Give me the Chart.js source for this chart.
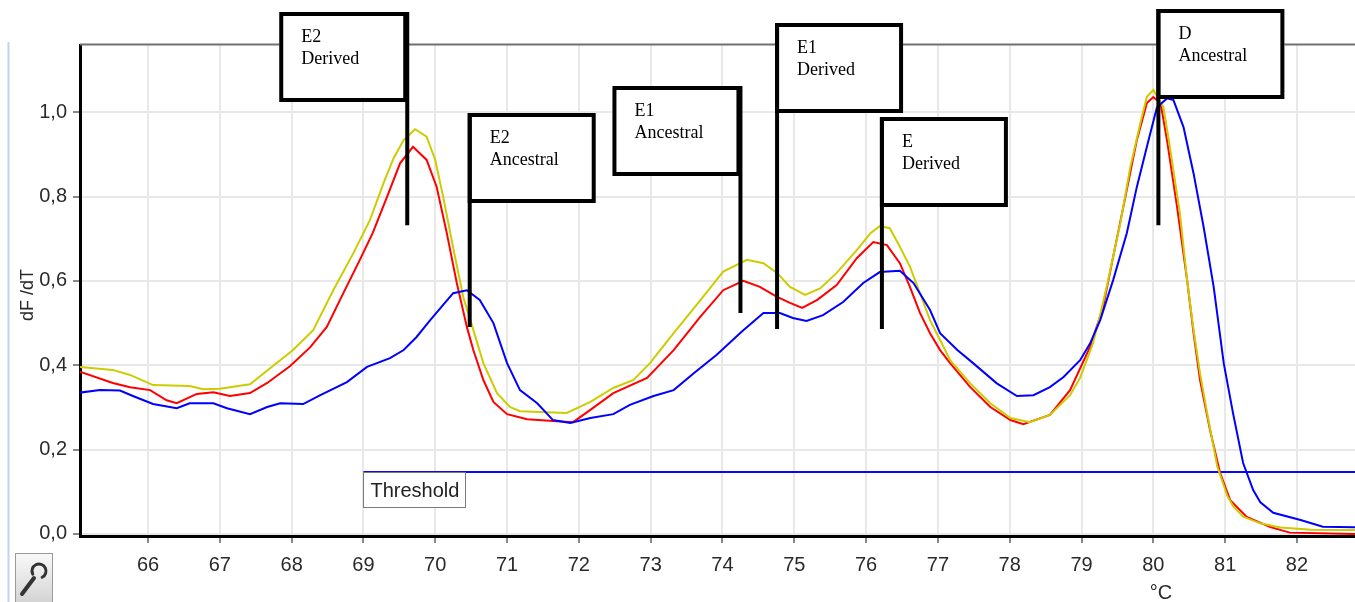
<!DOCTYPE html>
<html><head><meta charset="utf-8">
<script src="https://cdn.jsdelivr.net/npm/chart.js@4.4.1/dist/chart.umd.min.js"></script>
<style>html,body{margin:0;padding:0;background:#fff;overflow:hidden}</style>
</head><body>
<canvas id="c" width="1355" height="602"></canvas>
<script>
// ---- data ----
const xTickValues = [66,67,68,69,70,71,72,73,74,75,76,77,78,79,80,81,82];
const yTickValues = [0,0.2,0.4,0.6,0.8,1.0];
const xTitle = '°C';
const yTitle = 'dF /dT';

const yellowT = [65.05,65.51,65.75,66.07,66.58,66.77,67.00,67.42,67.84,68.02,68.30,68.58,68.86,69.09,69.28,69.42,69.56,69.72,69.88,70.00,70.11,70.25,70.39,70.53,70.67,70.86,71.04,71.18,71.83,72.16,72.48,72.76,72.99,73.32,73.69,74.01,74.34,74.57,74.76,74.94,75.15,75.36,75.59,75.87,76.06,76.19,76.33,76.47,76.61,76.75,76.89,77.03,77.17,77.45,77.73,78.01,78.28,78.56,78.84,78.98,79.16,79.26,79.35,79.54,79.68,79.82,79.91,80.00,80.14,80.23,80.37,80.47,80.56,80.65,80.75,80.89,81.03,81.11,81.25,81.49,81.77,82.20,82.81];
const yellowV = [0.396,0.389,0.377,0.353,0.351,0.343,0.344,0.355,0.412,0.436,0.483,0.578,0.666,0.744,0.832,0.891,0.934,0.960,0.942,0.887,0.800,0.678,0.562,0.484,0.405,0.334,0.301,0.291,0.287,0.313,0.346,0.365,0.405,0.476,0.554,0.622,0.650,0.642,0.619,0.586,0.567,0.582,0.619,0.673,0.713,0.730,0.725,0.681,0.634,0.571,0.507,0.460,0.412,0.357,0.310,0.275,0.265,0.282,0.329,0.370,0.452,0.520,0.586,0.737,0.871,0.975,1.037,1.053,1.012,0.918,0.760,0.602,0.484,0.381,0.286,0.160,0.090,0.066,0.041,0.025,0.015,0.010,0.009];

const redT = [65.05,65.51,65.75,66.03,66.26,66.40,66.68,66.91,67.14,67.42,67.66,67.98,68.26,68.49,68.72,68.95,69.13,69.33,69.51,69.69,69.88,70.02,70.16,70.30,70.44,70.53,70.67,70.81,71.00,71.28,71.64,71.92,72.16,72.48,72.95,73.32,73.69,74.01,74.29,74.52,74.76,74.94,75.11,75.32,75.59,75.87,76.10,76.29,76.47,76.61,76.75,76.89,77.03,77.17,77.45,77.73,78.01,78.19,78.56,78.84,79.12,79.30,79.44,79.63,79.77,79.91,80.00,80.10,80.19,80.33,80.47,80.56,80.65,80.79,80.93,81.07,81.30,81.63,81.90,82.81];
const redV = [0.385,0.358,0.348,0.341,0.317,0.310,0.332,0.336,0.327,0.334,0.358,0.398,0.443,0.491,0.571,0.650,0.714,0.800,0.879,0.918,0.887,0.823,0.714,0.595,0.491,0.436,0.365,0.313,0.284,0.272,0.268,0.265,0.294,0.334,0.370,0.436,0.515,0.578,0.600,0.586,0.562,0.548,0.536,0.555,0.590,0.654,0.692,0.685,0.642,0.586,0.524,0.476,0.436,0.405,0.348,0.301,0.270,0.260,0.282,0.341,0.444,0.538,0.657,0.816,0.934,1.022,1.036,1.022,0.934,0.776,0.602,0.476,0.365,0.246,0.144,0.080,0.040,0.016,0.003,0.000];

const blueT = [65.05,65.33,65.61,65.79,66.07,66.40,66.58,66.91,67.10,67.42,67.66,67.84,68.16,68.40,68.77,69.05,69.37,69.56,69.74,69.93,70.11,70.25,70.44,70.62,70.81,71.00,71.18,71.42,71.64,71.88,72.16,72.48,72.71,73.04,73.32,73.60,73.92,74.27,74.57,74.80,74.98,75.17,75.40,75.68,75.96,76.19,76.47,76.66,76.89,77.03,77.27,77.49,77.82,78.10,78.33,78.56,78.75,78.98,79.12,79.26,79.44,79.63,79.77,79.91,80.05,80.19,80.28,80.42,80.56,80.70,80.84,80.98,81.11,81.25,81.39,81.49,81.67,82.05,82.36,82.81];
const blueV = [0.335,0.341,0.340,0.327,0.308,0.298,0.310,0.310,0.298,0.284,0.301,0.310,0.308,0.329,0.360,0.396,0.417,0.436,0.467,0.507,0.543,0.571,0.578,0.555,0.500,0.405,0.341,0.310,0.270,0.263,0.275,0.284,0.306,0.327,0.341,0.381,0.425,0.480,0.524,0.524,0.512,0.505,0.519,0.550,0.595,0.621,0.624,0.595,0.531,0.476,0.436,0.405,0.357,0.327,0.329,0.348,0.372,0.412,0.452,0.507,0.602,0.713,0.823,0.918,1.012,1.033,1.029,0.965,0.855,0.728,0.586,0.405,0.286,0.168,0.104,0.075,0.050,0.033,0.017,0.016];

const thresholdLabel = 'Threshold';
const thresholdValue = 0.147;
const thresholdStart = 69.0;

const annLabels = [['E2','Derived'],['E2','Ancestral'],['E1','Ancestral'],['E1','Derived'],['E','Derived'],['D','Ancestral']];
const annTemps = [69.61, 70.48, 74.25, 74.76, 76.22, 80.07];
const annLineEnds = [0.732, 0.491, 0.524, 0.486, 0.486, 0.732];

// ---- layout / style (not data) ----
const X_MIN = 65.053, X_MAX = 82.808, Y_MIN = -0.005, Y_MAX = 1.1596;
const annLayout = [
  {side:'right', top:12}, {side:'left', top:113}, {side:'right', top:86},
  {side:'left', top:23}, {side:'left', top:117}, {side:'left', top:9}
];
const SANS = '"Liberation Sans", Arial, sans-serif';
const SERIF = '"Liberation Serif", "Times New Roman", serif';

const pts = (T, V) => T.map((t, i) => ({x: t, y: V[i]}));

const overlay = {
  id: 'overlay',
  beforeDraw(chart) {
    const ctx = chart.ctx;
    ctx.save(); ctx.fillStyle = '#fff'; ctx.fillRect(0, 0, chart.width, chart.height); ctx.restore();
  },
  afterDraw(chart) {
    const {ctx, chartArea: a, scales: {x, y}} = chart;
    ctx.save();
    // top frame line
    ctx.strokeStyle = '#707070'; ctx.lineWidth = 2;
    ctx.beginPath(); ctx.moveTo(a.left, a.top - 0.5); ctx.lineTo(a.right, a.top - 0.5); ctx.stroke();
    // light blue side line
    ctx.strokeStyle = '#bed4ef'; ctx.lineWidth = 2;
    ctx.beginPath(); ctx.moveTo(8.5, 42); ctx.lineTo(8.5, chart.height); ctx.stroke();
    // wrench button
    const g = ctx.createLinearGradient(0, 553, 0, 602);
    g.addColorStop(0, '#fafafa'); g.addColorStop(1, '#d4d4d4');
    ctx.fillStyle = g; ctx.fillRect(15, 553, 38, 49);
    ctx.strokeStyle = '#9a9a9a'; ctx.lineWidth = 1; ctx.strokeRect(15.5, 553.5, 37, 49);
    ctx.strokeStyle = '#333'; ctx.lineWidth = 4; ctx.lineCap = 'round';
    ctx.beginPath(); ctx.moveTo(22, 594); ctx.lineTo(34, 578); ctx.stroke();
    ctx.lineWidth = 3;
    ctx.beginPath(); ctx.arc(39, 571, 7, Math.PI * 0.85, Math.PI * 2.35); ctx.stroke();
    ctx.lineCap = 'butt';
    // axis titles
    ctx.fillStyle = '#2a2a2a';
    ctx.font = '20px ' + SANS; ctx.textAlign = 'center'; ctx.textBaseline = 'alphabetic';
    ctx.fillText(xTitle, 1161, 599);
    ctx.save(); ctx.translate(33, 295); ctx.rotate(-Math.PI / 2);
    ctx.font = '18px ' + SANS; ctx.fillText(yTitle, 0, 0); ctx.restore();
    // threshold label
    const tx = x.getPixelForValue(thresholdStart), ty = y.getPixelForValue(thresholdValue);
    ctx.fillStyle = '#fff'; ctx.fillRect(tx, ty + 1, 102, 34);
    ctx.strokeStyle = '#7a7a7a'; ctx.lineWidth = 1; ctx.strokeRect(Math.round(tx) + 0.5, Math.round(ty) + 0.5, 102, 35);
    ctx.fillStyle = '#222'; ctx.font = '20px ' + SANS; ctx.textAlign = 'left';
    ctx.fillText(thresholdLabel, tx + 7, ty + 25);
    // annotation boxes
    const W = 128, H = 90;
    annTemps.forEach((t, i) => {
      const lx = x.getPixelForValue(t);
      const ly = y.getPixelForValue(annLineEnds[i]);
      const L = annLayout[i];
      const bx = L.side === 'right' ? lx - W : lx - 2;
      const by = L.top;
      ctx.fillStyle = '#fff'; ctx.fillRect(bx, by, W, H);
      ctx.strokeStyle = '#000'; ctx.lineWidth = 4; ctx.strokeRect(bx + 2, by + 2, W - 4, H - 4);
      ctx.beginPath(); ctx.moveTo(lx, by); ctx.lineTo(lx, ly); ctx.stroke();
      ctx.fillStyle = '#000'; ctx.font = '18px ' + SERIF; ctx.textAlign = 'left';
      ctx.fillText(annLabels[i][0], bx + 22, by + 30);
      ctx.fillText(annLabels[i][1], bx + 22, by + 52);
    });
    ctx.restore();
  }
};

new Chart(document.getElementById('c'), {
  type: 'line',
  data: {
    datasets: [
      {label: 'blue', data: pts(blueT, blueV), borderColor: '#0000ff', borderWidth: 2},
      {label: 'yellow', data: pts(yellowT, yellowV), borderColor: '#cccc00', borderWidth: 2},
      {label: 'red', data: pts(redT, redV), borderColor: '#ff0000', borderWidth: 2},
      {label: 'threshold', data: [{x: thresholdStart, y: thresholdValue}, {x: X_MAX, y: thresholdValue}], borderColor: '#0a0af0', borderWidth: 2}
    ]
  },
  options: {
    responsive: false, animation: false, devicePixelRatio: 1,
    layout: {padding: {top: 45, right: 0, left: 0, bottom: 0}},
    elements: {point: {radius: 0}, line: {tension: 0}},
    plugins: {legend: {display: false}, tooltip: {enabled: false}},
    scales: {
      x: {
        type: 'linear', min: X_MIN, max: X_MAX,
        afterBuildTicks: s => { s.ticks = xTickValues.map(v => ({value: v})); },
        afterFit: s => { s.height = 66; },
        grid: {color: '#e8e8e8', lineWidth: 2, tickColor: '#606060', tickLength: 7, tickWidth: 1.5},
        border: {color: '#000', width: 3},
        ticks: {color: '#2a2a2a', font: {family: SANS, size: 20}, padding: 10, maxRotation: 0, autoSkip: false,
          callback: v => String(v)}
      },
      y: {
        type: 'linear', min: Y_MIN, max: Y_MAX,
        afterBuildTicks: s => { s.ticks = yTickValues.map(v => ({value: v})); },
        afterFit: s => { s.width = 80; },
        grid: {color: '#e8e8e8', lineWidth: 2, tickColor: '#606060', tickLength: 7, tickWidth: 1.5},
        border: {color: '#000', width: 3},
        ticks: {color: '#2a2a2a', font: {family: SANS, size: 20}, padding: 6,
          callback: v => v.toFixed(1).replace('.', ',')}
      }
    }
  },
  plugins: [overlay]
});
</script>
</body></html>
